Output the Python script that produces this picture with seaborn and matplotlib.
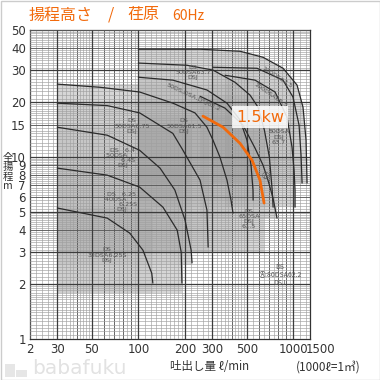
import matplotlib
matplotlib.use("Agg")
import matplotlib.pyplot as plt
import matplotlib.ticker as mticker
from matplotlib.patches import Rectangle
import numpy as np
import pandas as pd
import seaborn as sns

sns.set_theme(style="white")
plt.rcParams["font.family"] = ["DejaVu Sans", "Noto Sans CJK JP"]
JP = ["Noto Sans CJK JP", "DejaVu Sans"]

# ---------------- data (Q: l/min, H: m) ----------------
q_32 = [30, 63, 88, 107, 122, 124]
h_32 = [5.25, 4.62, 3.82, 3.08, 2.30, 2.03]

q_40 = [30, 63, 102, 144, 178, 189, 191]
h_40 = [8.70, 7.96, 6.84, 5.31, 3.97, 3.00, 2.03]

q_50_64 = [30, 63, 102, 138, 172, 200, 219, 222]
h_50_64 = [14.6, 13.2, 10.9, 8.70, 6.59, 4.51, 3.08, 2.62]

q_50_675 = [30, 63, 102, 167, 194, 250, 277, 282]
h_50_675 = [19.8, 19.2, 17.5, 13.5, 10.9, 7.47, 5.11, 3.20]

q_50_615 = [30, 57, 102, 167, 232, 277, 303, 336, 373, 396, 408]
h_50_615 = [25.2, 24.2, 22.8, 19.8, 17.5, 14.6, 12.4, 10.0, 7.47, 5.80, 4.92]

q_50_22 = [100, 167, 277, 373, 453, 502, 533, 549, 550]
h_50_22 = [27.5, 26.5, 23.4, 19.8, 16.0, 12.4, 9.04, 6.59, 5.80]

q_50_37 = [100, 206, 303, 420, 526, 592, 650, 700, 730, 740]
h_50_37 = [32.9, 32.0, 30.1, 25.8, 21.9, 18.8, 14.1, 10.0, 6.59, 5.31]

q_80_22 = [250, 362, 473, 566, 637, 686, 739, 784]
h_80_22 = [21.6, 18.6, 15.0, 11.2, 9.04, 7.47, 5.95, 4.62]

q_80_37 = [362, 566, 762, 910, 980, 1010, 1025, 1025]
h_80_37 = [28.2, 26.5, 22.8, 16.6, 11.35, 8.48, 6.59, 5.31]

q_100_55 = [303, 583, 858, 994, 1088, 1120, 1138]
h_100_55 = [31.2, 30.8, 26.5, 21.4, 15.0, 10.3, 7.20]

q_100_75 = [100, 250, 453, 637, 858, 1056, 1154, 1207, 1225]
h_100_75 = [39.2, 39.2, 38.2, 35.4, 30.8, 24.9, 18.8, 12.4, 7.20]

# highlighted 1.5 kW curve (65DSA61.5)
q_65_15 = [261, 352, 453, 541, 609, 647]
h_65_15 = [16.8, 14.6, 11.9, 9.63, 7.47, 5.59]

# rectangular operating ranges (shaded)
rect_names = ["32DSA6.25S", "40DSA6.25", "50DSA6.4", "50DSA6.75", "50DSA61.5",
              "65DSA61.5", "80DSA62.2"]
rect_q_min = [30, 30, 30, 30, 30, 100, 250]
rect_q_max = [124, 191, 222, 282, 408, 647, 784]
rect_h_min = [1.8, 1.8, 2.55, 3.0, 3.0, 3.0, 4.62]
rect_h_max = [5.25, 8.7, 14.6, 19.8, 25.2, 16.8, 21.6]

# ranges shaded beneath their curves, with their lower head limits
under_names = ["50DS62.2", "50DSA63.7", "80DSA63.7", "100DSA65.5", "100DS67.5"]
under_h_min = [5.8, 5.31, 5.31, 7.2, 7.2]

x_ticks = [20, 30, 40, 50, 60, 70, 80, 90, 100, 200, 300, 400, 500, 600, 700, 800, 900, 1000]
x_labels = ["2", "30", "", "50", "", "", "", "", "100", "200", "300", "", "500", "", "", "", "", "1000"]
y_ticks = [1, 2, 3, 4, 5, 6, 7, 8, 9, 10, 15, 20, 30, 40, 50]
y_labels = ["1", "2", "3", "4", "5", "6", "7", "8", "9", "10", "15", "20", "30", "40", "50"]
x_bold = [30, 50, 100, 200, 300, 500, 1000]
y_bold = [2, 3, 5, 10, 20, 30]

curves = {
    "32DSA6.25S": (q_32, h_32), "40DSA6.25": (q_40, h_40), "50DSA6.4": (q_50_64, h_50_64),
    "50DSA6.75": (q_50_675, h_50_675), "50DSA61.5": (q_50_615, h_50_615),
    "50DS62.2": (q_50_22, h_50_22), "50DSA63.7": (q_50_37, h_50_37),
    "80DSA62.2": (q_80_22, h_80_22), "80DSA63.7": (q_80_37, h_80_37),
    "100DSA65.5": (q_100_55, h_100_55), "100DS67.5": (q_100_75, h_100_75),
}
rows = []
for name, (qs, hs) in curves.items():
    for i, (q, h) in enumerate(zip(qs, hs)):
        rows.append({"pump": name, "order": i, "Q": q, "H": h})
df = pd.DataFrame(rows)
df_hi = pd.DataFrame({"pump": "65DSA61.5", "Q": q_65_15, "H": h_65_15})

# ---------------- figure ----------------
fig = plt.figure(figsize=(3.8, 3.8), dpi=100)
fig.patch.set_facecolor("white")
ax = fig.add_axes([30 / 380, 41 / 380, 280 / 380, 309 / 380])
ax.set_xscale("log")
ax.set_yscale("log")
ax.set_xlim(20, 1280)
ax.set_ylim(1, 50)
ax.set_facecolor("white")

# shaded regions
for qa, qb, ha, hb in zip(rect_q_min, rect_q_max, rect_h_min, rect_h_max):
    ax.add_patch(Rectangle((qa, ha), qb - qa, hb - ha, fc="#dedede", ec="none", zorder=0.8))
for name, hmin in zip(under_names, under_h_min):
    qs, hs = curves[name]
    ax.fill_between(qs, hmin, hs, fc="#dedede", ec="none", zorder=0.8)
for qa, qb, ha, hb in zip(rect_q_min, rect_q_max, rect_h_min, rect_h_max):
    ax.add_patch(Rectangle((qa, ha), qb - qa, hb - ha, fc="black", alpha=0.035, ec="none", zorder=0.9))
for name, hmin in zip(under_names, under_h_min):
    qs, hs = curves[name]
    ax.fill_between(qs, hmin, hs, fc="black", alpha=0.035, ec="none", zorder=0.9)

# log-paper grid
x_minor = (list(range(20, 50, 2)) + list(range(50, 100, 5)) + list(range(100, 200, 10))
           + list(range(200, 500, 20)) + list(range(500, 1000, 50)) + list(range(1000, 1300, 100)))
y_minor = list(np.concatenate([np.arange(1, 2, 0.05), np.arange(2, 5, 0.1), np.arange(5, 10, 0.2),
                               np.arange(10, 20, 0.5), np.arange(20, 50, 1)]))
ax.xaxis.set_major_locator(mticker.FixedLocator(x_ticks))
ax.xaxis.set_major_formatter(mticker.FixedFormatter(x_labels))
ax.xaxis.set_minor_locator(mticker.FixedLocator(x_minor))
ax.xaxis.set_minor_formatter(mticker.NullFormatter())
ax.yaxis.set_major_locator(mticker.FixedLocator(y_ticks))
ax.yaxis.set_major_formatter(mticker.FixedFormatter(y_labels))
ax.yaxis.set_minor_locator(mticker.FixedLocator(y_minor))
ax.yaxis.set_minor_formatter(mticker.NullFormatter())
ax.set_axisbelow(False)
ax.grid(True, which="major", color="#5a5a5a", lw=0.65)
ax.grid(True, which="minor", color="#a0a0a0", lw=0.45)
ax.vlines(x_bold, 1, 50, colors="#3c3c3c", lw=0.9, zorder=2.6)
ax.hlines(y_bold, 20, 1280, colors="#3c3c3c", lw=0.9, zorder=2.6)
ax.tick_params(which="both", length=0)
ax.tick_params(axis="both", which="major", labelsize=8.5, labelcolor="#333333", pad=3)
for s in ax.spines.values():
    s.set_color("#333333")
    s.set_linewidth(0.9)

# curves
sns.lineplot(data=df, x="Q", y="H", units="pump", estimator=None, sort=False,
             color="#2b2b2b", lw=0.9, ax=ax, zorder=3, legend=False)
sns.lineplot(data=df_hi, x="Q", y="H", estimator=None, sort=False,
             color="#f26a0c", lw=2.0, ax=ax, zorder=4, legend=False)
ax.set_xlabel("")
ax.set_ylabel("")

# pump labels
lab = dict(fontsize=4.6, color="#555555", ha="center", va="center", zorder=5, linespacing=1.05)
ax.text(62.8, 2.89, "DS\n32DSA6.25S\nDSJ", **lab)
ax.text(78.4, 5.66, "DS   6.25\n40DSA      \n      6.25S\nDSJ", **lab)
ax.text(79.6, 9.87, "DS   6.4\n50DSA      \n     6.4S\nDSJ", **lab)
ax.text(91, 14.8, "DS\n50DSA6.75\nDSJ", **lab)
ax.text(197, 14.8, "DS\n50DSA61.5\nDSJ", **lab)
ax.text(225, 21.4, "50DS,DSA,DSJ62.2", rotation=-25, **lab)
ax.text(225, 29.3, "DS\n50DSA63.7\nDSJ", **lab)
ax.text(784, 27.5, "100DS67.5", rotation=-33, **lab)
ax.text(707, 21.9, "100DSA65.5", rotation=-35, **lab)
ax.text(808, 12.9, "80DSA\nDSJ\n63.7", **lab)
ax.text(518, 4.56, "DS\n65DSA\nDSJ\n61.5", **lab)
ax.text(665, 7.9, "Ⓐ", fontsize=5.5, color="#555555", ha="center", va="center",
        zorder=5, family=JP)
ax.text(820, 2.25, "DS\nⒶ:80DSA62.2\nDSJ", fontsize=5.0, color="#555555", ha="center",
        va="center", zorder=5, family=JP, linespacing=1.0)
ax.text(609, 16.6, "1.5kw", fontsize=11.5, color="#f26a0c", ha="center", va="center", zorder=6,
        bbox=dict(fc="white", ec="none", alpha=0.85, pad=2.5))

ax.annotate("1500", xy=(1500, 0), xycoords=("data", "axes fraction"), xytext=(0, -3),
            textcoords="offset points", ha="center", va="top", fontsize=8.5,
            color="#333333", annotation_clip=False)

# titles and axis texts
fig.text(29 / 380, 1 - 15 / 380, "揚程高さ", family=JP, fontsize=11.5, color="#f26a0c", va="center")
fig.text(111 / 380, 1 - 15 / 380, "/", family=JP, fontsize=11.5, color="#f26a0c", va="center", ha="center")
fig.text(127 / 380, 1 - 15 / 380, "荏原", family=JP, fontsize=11.5, color="#f26a0c", va="center")
fig.text(172 / 380, 1 - 16 / 380, "60Hz", family=JP, fontsize=10, color="#f26a0c", va="center")

fig.text(8 / 380, 1 - 172 / 380, "全\n揚\n程\nm", family=JP, fontsize=7.5, color="#333333",
         ha="center", va="center", linespacing=0.95)
fig.text(210 / 380, 1 - 367 / 380, "吐出し量 ℓ/min", family=JP, fontsize=8.3, color="#333333",
         ha="center", va="center")
fig.text(328 / 380, 1 - 367 / 380, "(1000ℓ=1㎥)", family=JP, fontsize=8.5, color="#333333",
         ha="center", va="center")
fig.text(32 / 380, 1 - 369 / 380, "babafuku", fontsize=14.5, color="#e2e2e2", va="center")
fig.patches.append(Rectangle((5 / 380, 1 - 377 / 380), 10 / 380, 13 / 380, transform=fig.transFigure,
                             fc="#e6e6e6", ec="none"))
fig.patches.append(Rectangle((16 / 380, 1 - 377 / 380), 11 / 380, 7 / 380, transform=fig.transFigure,
                             fc="#e6e6e6", ec="none"))
fig.patches.append(Rectangle((0.5 / 380, 0.5 / 380), 379 / 380, 379 / 380, transform=fig.transFigure,
                             fc="none", ec="#cccccc", lw=1))

fig.savefig("out.png", dpi=100, facecolor="white")
